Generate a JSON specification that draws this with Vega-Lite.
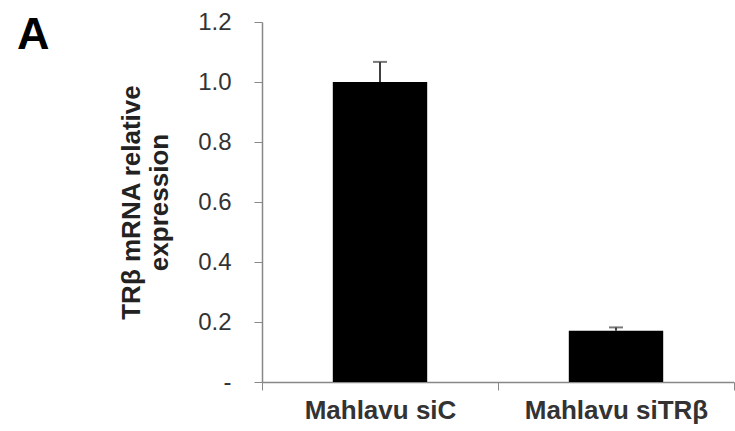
{
  "$schema": "https://vega.github.io/schema/vega-lite/v6.json",
  "width": 472,
  "height": 360,
  "autosize": "none",
  "padding": {"left": 262, "top": 22, "right": 1, "bottom": 49},
  "background": "white",
  "title": {"text": "A", "anchor": "start", "frame": "group", "font": "Liberation Sans", "fontSize": 45, "fontWeight": "bold", "color": "#000", "dx": -245, "dy": 48, "offset": 0},
  "data": {"values": [
    {"group": "Mahlavu siC", "value": 1.0, "upper": 1.067},
    {"group": "Mahlavu siTRβ", "value": 0.171, "upper": 0.182}
  ]},
  "encoding": {
    "x": {"field": "group", "type": "nominal", "sort": null,
      "scale": {"paddingInner": 0, "paddingOuter": 0},
      "axis": {"title": null, "labelAngle": 0, "labelLimit": 0, "tickBand": "extent", "tickSize": 8, "tickColor": "#888", "domainColor": "#888", "domainWidth": 1.5,
        "labelFont": "Liberation Sans", "labelFontSize": 26, "labelFontWeight": "bold", "labelColor": "#333", "labelPadding": 7}}
  },
  "layer": [
    {"mark": {"type": "bar", "color": "black", "width": {"band": 0.4}},
     "encoding": {"y": {"field": "value", "type": "quantitative", "scale": {"domain": [0, 1.2]},
       "axis": {"values": [0, 0.2, 0.4, 0.6, 0.8, 1.0, 1.2], "labelExpr": "datum.value == 0 ? '-' : format(datum.value, '.1f')", "grid": false,
         "tickSize": 8, "tickColor": "#888", "domainColor": "#888", "domainWidth": 1.5,
         "labelFont": "Liberation Sans", "labelFontSize": 24, "labelColor": "#333", "labelPadding": 23,
         "title": ["TRβ mRNA relative", "expression"], "titleFont": "Liberation Sans", "titleFontSize": 26, "titleFontWeight": "bold", "titleColor": "#222", "titleLineHeight": 28, "titlePadding": 25}}}},
    {"mark": {"type": "rule", "color": "#404040", "strokeWidth": 2},
     "encoding": {"y": {"field": "value", "type": "quantitative"}, "y2": {"field": "upper"}}},
    {"mark": {"type": "tick", "color": "#404040", "thickness": 2, "size": 14},
     "encoding": {"y": {"field": "upper", "type": "quantitative"}}}
  ],
  "config": {"view": {"stroke": null}}
}
